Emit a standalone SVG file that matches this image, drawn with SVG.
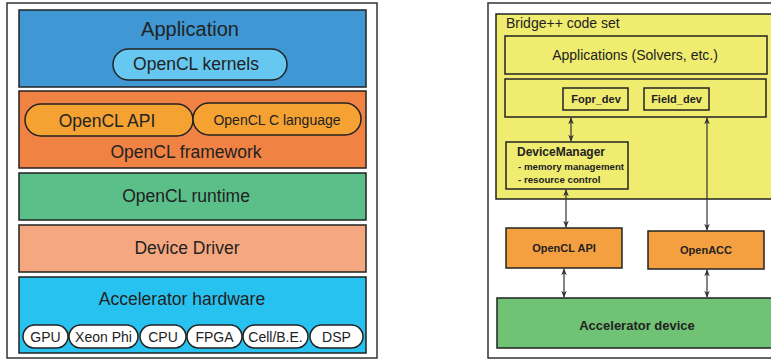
<svg xmlns="http://www.w3.org/2000/svg" width="771" height="362" viewBox="0 0 771 362">
<style>
text{font-family:"Liberation Sans",Arial,sans-serif;fill:#222;text-anchor:middle}
.frame{fill:#fff;stroke:#333;stroke-width:1.5}
.box{stroke:#222;stroke-width:1.5}
.b{font-weight:bold}
.s{text-anchor:start}
.conn line{stroke:#333;stroke-width:1.2;marker-start:url(#ah);marker-end:url(#ah)}
</style>
<defs>
<marker id="ah" viewBox="0 0 10 10" refX="9" refY="5" markerWidth="7" markerHeight="7" orient="auto-start-reverse" markerUnits="userSpaceOnUse">
<path d="M0,1 L10,5 L0,9 L3,5 Z" fill="#333"/>
</marker>
</defs>
<rect class="frame" x="7" y="3" width="370" height="355"/>
<g id="application">
<rect class="box" x="19" y="10" width="347" height="77" fill="#3f98d4"/>
<text x="190" y="36" font-size="20">Application</text>
</g>
<g id="opencl-kernels">
<rect class="box" x="113" y="49" width="174" height="31" rx="15.5" fill="#66c8f0"/>
<text x="196" y="70" font-size="17.5">OpenCL kernels</text>
</g>
<g id="opencl-framework">
<rect class="box" x="19" y="91" width="347" height="77" fill="#f08244"/>
<text x="186" y="158" font-size="17.5">OpenCL framework</text>
</g>
<g id="opencl-api-left">
<rect class="box" x="25" y="104" width="168" height="32" rx="16" fill="#f5a232"/>
<text x="107" y="127" font-size="17.5">OpenCL API</text>
</g>
<g id="opencl-c-language">
<rect class="box" x="193" y="103" width="168" height="32" rx="16" fill="#f5a232"/>
<text x="277" y="125" font-size="14">OpenCL C language</text>
</g>
<g id="opencl-runtime">
<rect class="box" x="19" y="173" width="347" height="47" fill="#5abf88"/>
<text x="186" y="202" font-size="17.5">OpenCL runtime</text>
</g>
<g id="device-driver">
<rect class="box" x="19" y="225" width="347" height="47" fill="#f5a880"/>
<text x="187" y="254" font-size="17.5">Device Driver</text>
</g>
<g id="accelerator-hardware">
<rect class="box" x="19" y="277" width="347" height="76" fill="#28c2f0"/>
<text x="182" y="305" font-size="17.5">Accelerator hardware</text>
</g>
<g id="hw-gpu"><rect class="box" x="23" y="325" width="45" height="23" rx="11.5" fill="#fff"/><text x="45.5" y="342" font-size="14">GPU</text></g>
<g id="hw-xeon"><rect class="box" x="69" y="325" width="69" height="23" rx="11.5" fill="#fff"/><text x="103.5" y="342" font-size="14">Xeon Phi</text></g>
<g id="hw-cpu"><rect class="box" x="140" y="325" width="46" height="23" rx="11.5" fill="#fff"/><text x="163" y="342" font-size="14">CPU</text></g>
<g id="hw-fpga"><rect class="box" x="187" y="325" width="55" height="23" rx="11.5" fill="#fff"/><text x="214.5" y="342" font-size="14">FPGA</text></g>
<g id="hw-cell"><rect class="box" x="243" y="325" width="65" height="23" rx="11.5" fill="#fff"/><text x="275.5" y="342" font-size="14">Cell/B.E.</text></g>
<g id="hw-dsp"><rect class="box" x="310" y="325" width="53" height="23" rx="11.5" fill="#fff"/><text x="336.5" y="342" font-size="14">DSP</text></g>

<rect class="frame" x="488" y="3" width="290" height="355"/>
<g id="bridge-code-set">
<rect class="box" x="496" y="14" width="280" height="185" fill="#f0ec70"/>
<text class="s" x="506" y="28" font-size="14">Bridge++ code set</text>
</g>
<g id="applications">
<rect class="box" x="505" y="36" width="262" height="38" fill="none"/>
<text x="635" y="60" font-size="14">Applications (Solvers, etc.)</text>
</g>
<g id="dev-layer">
<rect class="box" x="505" y="79" width="261" height="38" fill="none"/>
</g>
<g id="fopr-dev">
<rect class="box" x="563" y="88" width="65" height="22" fill="none"/>
<text class="b" x="596" y="103" font-size="11">Fopr_dev</text>
</g>
<g id="field-dev">
<rect class="box" x="644" y="88" width="65" height="22" fill="none"/>
<text class="b" x="676.5" y="103" font-size="11">Field_dev</text>
</g>
<g id="device-manager">
<rect class="box" x="506" y="142" width="122" height="47" fill="none"/>
<text class="b s" x="517" y="156" font-size="12">DeviceManager</text>
<text class="b s" x="518" y="170" font-size="9.7">- memory management</text>
<text class="b s" x="518" y="183" font-size="9.7">- resource control</text>
</g>
<g id="opencl-api-right">
<rect class="box" x="506" y="228" width="116" height="40" fill="#f5a040"/>
<text class="b" x="564" y="252" font-size="11">OpenCL API</text>
</g>
<g id="openacc">
<rect class="box" x="648" y="231" width="116" height="38" fill="#f5a040"/>
<text class="b" x="706" y="254" font-size="11">OpenACC</text>
</g>
<g id="accelerator-device">
<rect class="box" x="497" y="298" width="280" height="50" fill="#70c274"/>
<text class="b" x="637" y="330" font-size="13">Accelerator device</text>
</g>
<g class="conn" id="connectors">
<line x1="571" y1="118" x2="571" y2="141"/>
<line x1="566" y1="190" x2="566" y2="227"/>
<line x1="707" y1="118" x2="707" y2="230"/>
<line x1="564" y1="269" x2="564" y2="297"/>
<line x1="707" y1="270" x2="707" y2="297"/>
</g>
</svg>
